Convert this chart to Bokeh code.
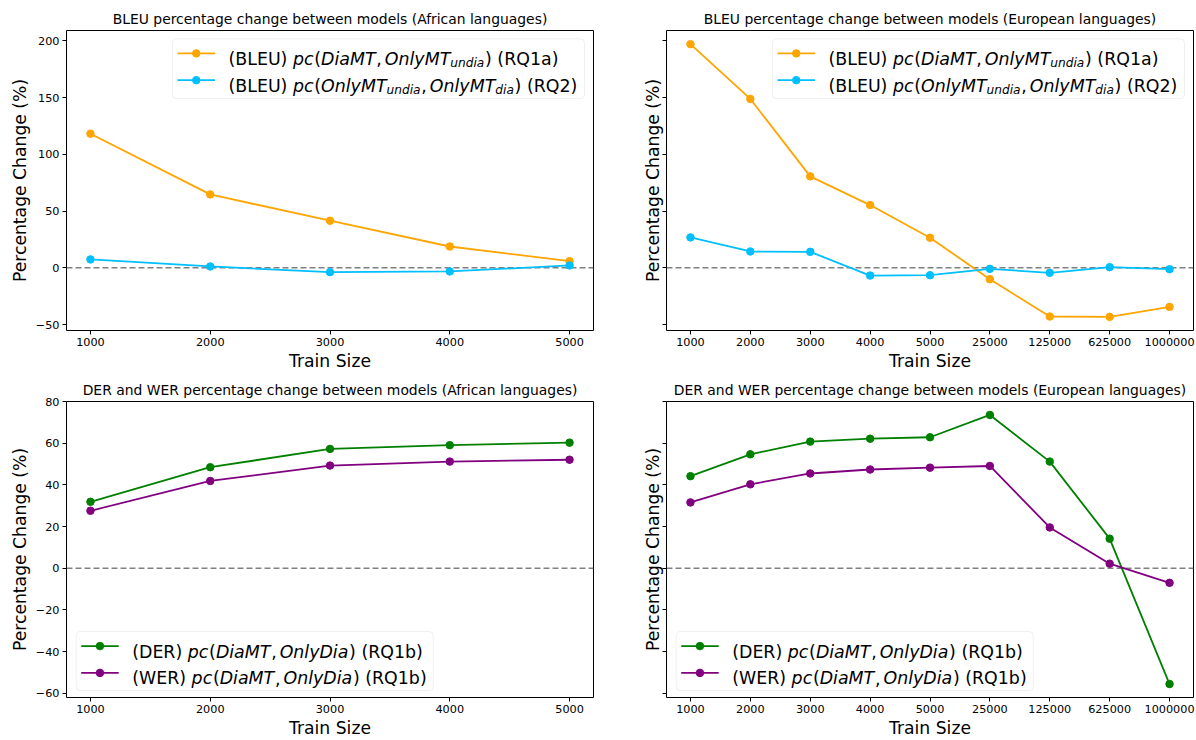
from bokeh.plotting import figure
from bokeh.models import Range1d, FixedTicker, Span, BoxAnnotation, ColumnDataSource
from bokeh.layouts import column, row
from bokeh.embed import file_html
from bokeh.resources import INLINE
from bokeh.core.properties import value

FONT = "DejaVu Sans"

# ---------------- data ----------------
african_train_sizes = ["1000", "2000", "3000", "4000", "5000"]
european_train_sizes = ["1000", "2000", "3000", "4000", "5000", "25000", "125000", "625000", "1000000"]

african_bleu_rq1a = [118.2, 64.7, 41.5, 18.8, 5.9]
african_bleu_rq2 = [7.4, 1.2, -3.8, -3.2, 2.1]
european_bleu_rq1a = [197.1, 148.8, 80.6, 55.3, 26.5, -10.0, -42.9, -43.2, -34.4]
european_bleu_rq2 = [26.8, 14.4, 14.1, -6.8, -6.5, -0.9, -4.4, 0.6, -1.2]

african_der_rq1b = [31.9, 48.5, 57.3, 59.1, 60.3]
african_wer_rq1b = [27.6, 41.9, 49.3, 51.2, 52.1]
european_der_rq1b = [44.2, 54.7, 60.8, 62.2, 62.9, 73.6, 51.2, 14.2, -55.6]
european_wer_rq1b = [31.6, 40.3, 45.5, 47.4, 48.3, 49.1, 19.6, 2.2, -7.0]

bleu_yticks = [-50, 0, 50, 100, 150, 200]
err_yticks = [-60, -40, -20, 0, 20, 40, 60, 80]

titles = [
    "BLEU percentage change between models (African languages)",
    "BLEU percentage change between models (European languages)",
    "DER and WER percentage change between models (African languages)",
    "DER and WER percentage change between models (European languages)",
]
x_label = "Train Size"
y_label = "Percentage Change (%)"

# legend labels: (text, kind) kind: r=upright, i=italic, sub=italic subscript, sp=space, thin=thin space
legend_bleu_rq1a = [("(BLEU)", "r"), (" ", "sp"), ("pc", "i"), ("(", "r"), ("DiaMT", "i"), (",", "r"),
                    ("", "thin"), ("OnlyMT", "i"), ("undia", "sub"), (")", "r"), (" ", "sp"), ("(RQ1a)", "r")]
legend_bleu_rq2 = [("(BLEU)", "r"), (" ", "sp"), ("pc", "i"), ("(", "r"), ("OnlyMT", "i"), ("undia", "sub"),
                   (",", "r"), ("", "thin"), ("OnlyMT", "i"), ("dia", "sub"), (")", "r"), (" ", "sp"), ("(RQ2)", "r")]
legend_der = [("(DER)", "r"), (" ", "sp"), ("pc", "i"), ("(", "r"), ("DiaMT", "i"), (",", "r"), ("", "thin"),
              ("OnlyDia", "i"), (")", "r"), (" ", "sp"), ("(RQ1b)", "r")]
legend_wer = [("(WER)", "r"), (" ", "sp"), ("pc", "i"), ("(", "r"), ("DiaMT", "i"), (",", "r"), ("", "thin"),
              ("OnlyDia", "i"), (")", "r"), (" ", "sp"), ("(RQ1b)", "r")]

ORANGE = "#FFA500"
CYAN = "#00BFFF"
GREEN = "#008000"
PURPLE = "#800080"

# DejaVu Sans advance widths (per 1000 em)
W = {'(': 390, ')': 390, ' ': 318, ',': 318, 'B': 686, 'L': 557, 'E': 632, 'U': 732, 'D': 770, 'R': 695,
     'W': 989, 'Q': 787, 'M': 863, 'T': 611, 'O': 787, '1': 636, '2': 636, 'a': 613, 'b': 635, 'c': 550,
     'd': 635, 'i': 278, 'l': 278, 'n': 634, 'p': 635, 'u': 634, 'y': 592}

LEG_FS = 17.4
LINE_W = 1.8
MARK = 7.5


def text_w(s, size):
    return sum(W.get(c, 600) for c in s) / 1000.0 * size


def fmt(v):
    return ("\u2212%d" % -v) if v < 0 else "%d" % v


def padded(vals):
    lo, hi = min(vals), max(vals)
    m = 0.05 * (hi - lo)
    return lo - m, hi + m


FW = 527


def make_fig(title, cats, yrange, yticks, fh, mbl, mbr, mbt, mbb, show_ylabels):
    n = len(cats)
    pad = 0.05 * (n - 1)
    p = figure(frame_width=FW, frame_height=fh,
               x_range=Range1d(-pad, n - 1 + pad), y_range=Range1d(*yrange),
               output_backend="svg", toolbar_location=None,
               min_border_left=mbl, min_border_right=mbr, min_border_top=mbt, min_border_bottom=mbb,
               background_fill_color="white", border_fill_color="white")
    p.title.text = title
    p.title.text_font = FONT
    p.title.text_font_size = "13.9px"
    p.title.text_font_style = "normal"
    p.title.text_color = "black"
    p.title.align = "center"
    p.title.standoff = 7
    p.xgrid.visible = False
    p.ygrid.visible = False
    p.outline_line_color = "black"
    p.outline_line_width = 1
    p.outline_line_alpha = 1

    p.xaxis.ticker = FixedTicker(ticks=list(range(n)))
    p.xaxis.major_label_overrides = {i: c for i, c in enumerate(cats)}
    p.yaxis.ticker = FixedTicker(ticks=yticks)
    p.yaxis.major_label_overrides = {t: fmt(t) for t in yticks}
    for ax in p.axis:
        ax.axis_line_color = None
        ax.major_tick_in = 0
        ax.major_tick_out = 4
        ax.major_tick_line_color = "black"
        ax.minor_tick_line_color = None
        ax.major_label_text_font = FONT
        ax.major_label_text_font_size = "11.25px"
        ax.major_label_text_color = "black"
        ax.axis_label_text_font = FONT
        ax.axis_label_text_font_size = "17.2px"
        ax.axis_label_text_font_style = "normal"
        ax.axis_label_text_color = "black"
    p.xaxis.axis_label = x_label
    p.xaxis.major_label_standoff = 3
    p.xaxis.axis_label_standoff = 2
    p.yaxis.axis_label = y_label
    if show_ylabels:
        p.yaxis.major_label_standoff = 3
        p.yaxis.axis_label_standoff = 3
    else:
        p.yaxis.major_label_text_font_size = "0px"
        p.yaxis.major_label_text_color = None
        p.yaxis.major_label_standoff = 0
        p.yaxis.axis_label_standoff = 0
    p.add_layout(Span(location=0, dimension="width", line_color="#808080", line_dash="6 3",
                      line_width=1.5, level="underlay"))
    return p


def add_series(p, vals, color):
    xs = list(range(len(vals)))
    p.line(xs, vals, line_color=color, line_width=LINE_W)
    p.scatter(xs, vals, size=MARK, marker="circle", fill_color=color, line_color=color)


def add_legend(p, fh, box_left, box_top, box_w, box_h, entries):
    x0, x1 = p.x_range.start, p.x_range.end
    y0, y1 = p.y_range.start, p.y_range.end

    def X(px):
        return x0 + px * (x1 - x0) / FW

    def Y(py):
        return y1 - py * (y1 - y0) / fh

    p.add_layout(BoxAnnotation(left=X(box_left), right=X(box_left + box_w),
                               top=Y(box_top), bottom=Y(box_top + box_h),
                               fill_color="white", fill_alpha=0.85, line_color="#cccccc",
                               line_width=1, border_radius=4, level="annotation"))
    groups = {"r": dict(x=[], y=[], text=[]), "i": dict(x=[], y=[], text=[]), "sub": dict(x=[], y=[], text=[])}
    for k, (color, parts) in enumerate(entries):
        ry = box_top + 14.6 + k * 26.8
        p.line([X(box_left + 5), X(box_left + 42.5)], [Y(ry), Y(ry)], line_color=color,
               line_width=LINE_W, level="overlay")
        p.scatter([X(box_left + 23.75)], [Y(ry)], size=MARK, marker="circle", fill_color=color,
                  line_color=color, level="overlay")
        cur = box_left + 56
        prev = None
        for txt, kind in parts:
            if kind == "sp":
                cur += text_w(" ", LEG_FS)
            elif kind == "thin":
                cur += LEG_FS * 0.17
            else:
                if prev in ("i", "sub") and kind == "r":
                    cur += LEG_FS * 0.04
                size = LEG_FS * 0.7 if kind == "sub" else LEG_FS
                base = ry + 5.5 + (3.8 if kind == "sub" else 0)
                g = groups[kind]
                g["x"].append(X(cur))
                g["y"].append(Y(base))
                g["text"].append(txt)
                cur += text_w(txt, size)
            prev = kind
    styles = {"r": ("normal", LEG_FS), "i": ("italic", LEG_FS), "sub": ("italic", LEG_FS * 0.7)}
    for kind, g in groups.items():
        if not g["text"]:
            continue
        st, sz = styles[kind]
        p.text(x="x", y="y", text="text", source=ColumnDataSource(g),
               text_font=value(FONT), text_font_size=value("%.2fpx" % sz),
               text_font_style=value(st), text_color="black",
               text_align="left", text_baseline="alphabetic", level="overlay")


TOP_H = 300
BOT_H = 296

bleu_range = padded(african_bleu_rq1a + african_bleu_rq2 + european_bleu_rq1a + european_bleu_rq2)
err_range = padded(african_der_rq1b + african_wer_rq1b + european_der_rq1b + european_wer_rq1b)

p1 = make_fig(titles[0], african_train_sizes, bleu_range, bleu_yticks, TOP_H, 66, 15, 30, 43, True)
add_series(p1, african_bleu_rq1a, ORANGE)
add_series(p1, african_bleu_rq2, CYAN)
add_legend(p1, TOP_H, FW - 9 - 412, 8.3, 412, 59.7,
           [(ORANGE, legend_bleu_rq1a), (CYAN, legend_bleu_rq2)])

p2 = make_fig(titles[1], european_train_sizes, bleu_range, bleu_yticks, TOP_H, 58, 3, 30, 43, False)
add_series(p2, european_bleu_rq1a, ORANGE)
add_series(p2, european_bleu_rq2, CYAN)
add_legend(p2, TOP_H, FW - 9 - 412, 8.3, 412, 59.7,
           [(ORANGE, legend_bleu_rq1a), (CYAN, legend_bleu_rq2)])

p3 = make_fig(titles[2], african_train_sizes, err_range, err_yticks, BOT_H, 66, 15, 28, 43, True)
add_series(p3, african_der_rq1b, GREEN)
add_series(p3, african_wer_rq1b, PURPLE)
add_legend(p3, BOT_H, 9.7, BOT_H - 7 - 59, 357, 59,
           [(GREEN, legend_der), (PURPLE, legend_wer)])

p4 = make_fig(titles[3], european_train_sizes, err_range, err_yticks, BOT_H, 58, 3, 28, 43, False)
add_series(p4, european_der_rq1b, GREEN)
add_series(p4, european_wer_rq1b, PURPLE)
add_legend(p4, BOT_H, 9.7, BOT_H - 7 - 59, 357, 59,
           [(GREEN, legend_der), (PURPLE, legend_wer)])

layout = column(row(p1, p2), row(p3, p4))

open("out.html", "w").write(file_html(layout, INLINE))
